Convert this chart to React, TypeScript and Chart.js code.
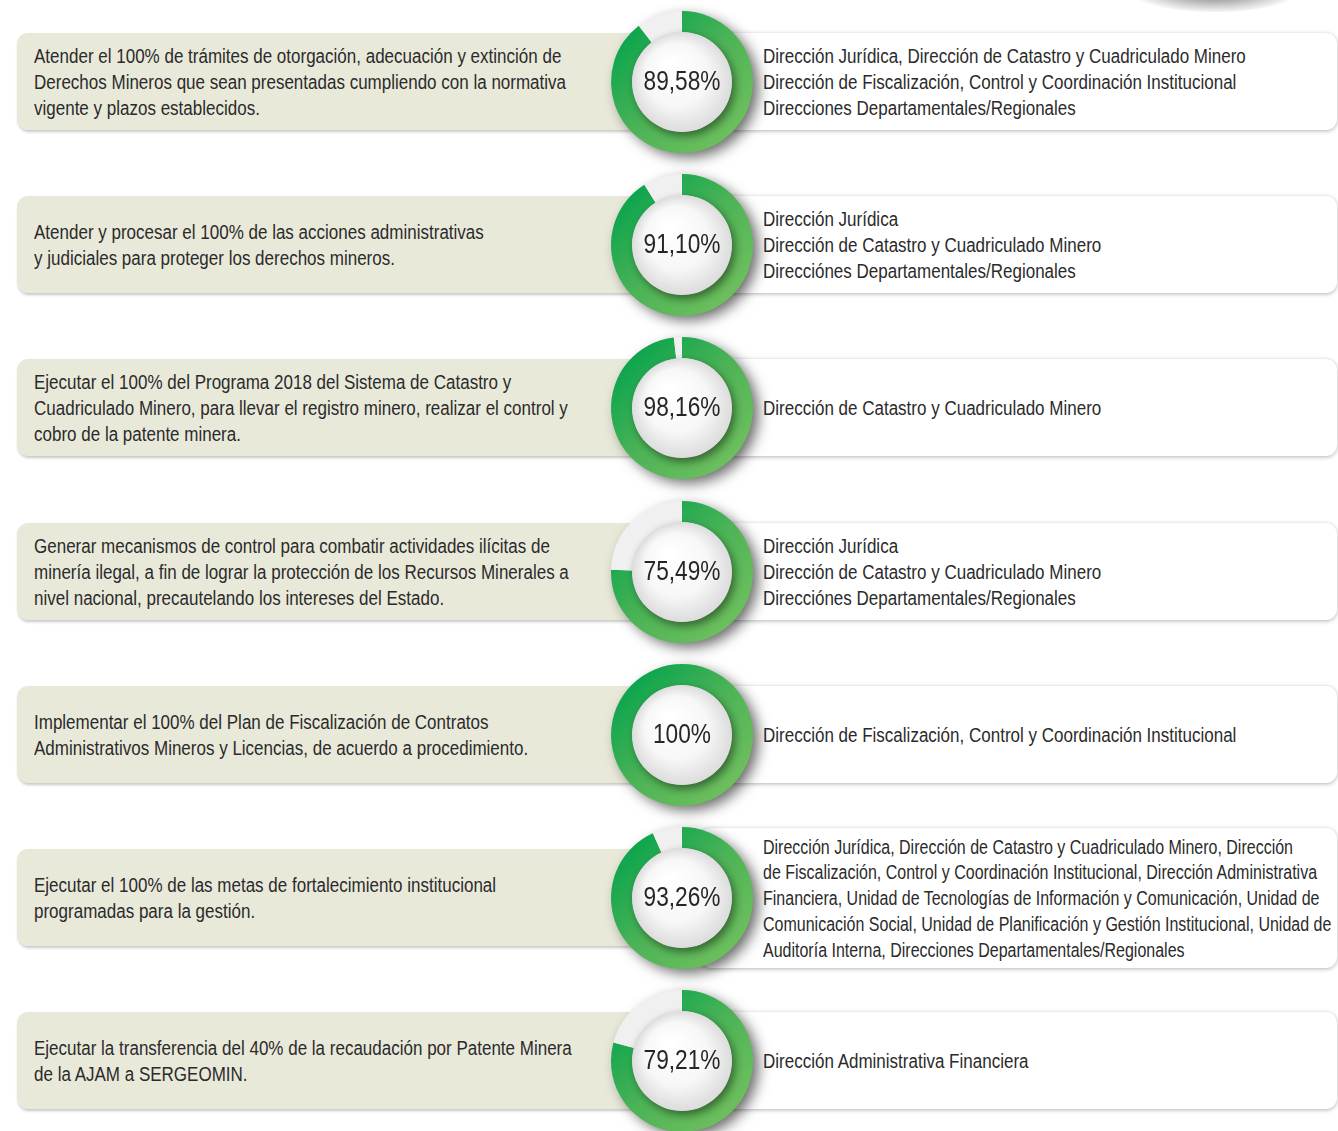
import React, { useEffect, useRef } from "react";
import { Chart, registerables } from "chart.js";

Chart.register(...registerables);

// ---- Data ----
const goals: string[][] = [
  [
    "Atender el 100% de trámites de otorgación, adecuación y extinción de",
    "Derechos Mineros que sean presentadas cumpliendo con la normativa",
    "vigente y plazos establecidos.",
  ],
  [
    "Atender y procesar el 100% de las acciones administrativas",
    "y judiciales para proteger los derechos mineros.",
  ],
  [
    "Ejecutar el 100% del Programa 2018 del Sistema de Catastro y",
    "Cuadriculado Minero, para llevar el registro minero, realizar el control y",
    "cobro de la patente minera.",
  ],
  [
    "Generar mecanismos de control para combatir actividades ilícitas de",
    "minería ilegal, a fin de lograr la protección de los Recursos Minerales a",
    "nivel nacional, precautelando los intereses del Estado.",
  ],
  [
    "Implementar el 100% del Plan de Fiscalización de Contratos",
    "Administrativos Mineros y Licencias, de acuerdo a procedimiento.",
  ],
  [
    "Ejecutar el 100% de las metas de fortalecimiento institucional",
    "programadas para la gestión.",
  ],
  [
    "Ejecutar la transferencia del 40% de la recaudación por Patente Minera",
    "de la AJAM a SERGEOMIN.",
  ],
];

const achieved: number[] = [89.58, 91.1, 98.16, 75.49, 100, 93.26, 79.21];
const percentLabels: string[] = ["89,58%", "91,10%", "98,16%", "75,49%", "100%", "93,26%", "79,21%"];

const responsibles: string[][] = [
  [
    "Dirección Jurídica, Dirección de Catastro y Cuadriculado Minero",
    "Dirección de Fiscalización, Control y Coordinación Institucional",
    "Direcciones Departamentales/Regionales",
  ],
  ["Dirección Jurídica", "Dirección de Catastro y Cuadriculado Minero", "Direcciónes Departamentales/Regionales"],
  ["Dirección de Catastro y Cuadriculado Minero"],
  ["Dirección Jurídica", "Dirección de Catastro y Cuadriculado Minero", "Direcciónes Departamentales/Regionales"],
  ["Dirección de Fiscalización, Control y Coordinación Institucional"],
  [
    "Dirección Jurídica, Dirección de Catastro y Cuadriculado Minero, Dirección",
    "de Fiscalización, Control y Coordinación Institucional, Dirección Administrativa",
    "Financiera, Unidad de Tecnologías de Información y Comunicación, Unidad de",
    "Comunicación Social, Unidad de Planificación y Gestión Institucional, Unidad de",
    "Auditoría Interna, Direcciones Departamentales/Regionales",
  ],
  ["Dirección Administrativa Financiera"],
];

const FONT = '"Liberation Sans", Arial, sans-serif';
const SCALE_X = 0.85;
const SCALE_X_DENSE = 0.8;
const ROW0 = 33;
const ROW_STEP = 163.2;
const BOX_H = 97;
const CX = 682;
const CANVAS = 190;
const OUTER_R = 71;

function Donut({ value, label, cy }: { value: number; label: string; cy: number }) {
  const ref = useRef<HTMLCanvasElement | null>(null);
  useEffect(() => {
    const canvas = ref.current;
    if (!canvas) return;
    const pad = CANVAS / 2 - OUTER_R;
    const decor = {
      id: "decor",
      beforeDatasetsDraw(chart: any) {
        const { ctx, chartArea } = chart;
        const x = (chartArea.left + chartArea.right) / 2;
        const y = (chartArea.top + chartArea.bottom) / 2;
        ctx.save();
        ctx.shadowColor = "rgba(0,0,0,0.6)";
        ctx.shadowBlur = 14;
        ctx.shadowOffsetX = 6;
        ctx.shadowOffsetY = 5;
        ctx.beginPath();
        ctx.arc(x, y, OUTER_R - 1, 0, Math.PI * 2);
        ctx.fillStyle = "#eeeeee";
        ctx.fill();
        ctx.restore();
      },
      afterDatasetsDraw(chart: any) {
        const { ctx, chartArea } = chart;
        const x = (chartArea.left + chartArea.right) / 2;
        const y = (chartArea.top + chartArea.bottom) / 2;
        const r = 50;
        ctx.save();
        ctx.shadowColor = "rgba(0,0,0,0.45)";
        ctx.shadowBlur = 9;
        ctx.shadowOffsetX = 3;
        ctx.shadowOffsetY = 4;
        const g = ctx.createRadialGradient(x - 14, y - 18, 4, x, y, r);
        g.addColorStop(0, "#ffffff");
        g.addColorStop(0.6, "#f7f7f7");
        g.addColorStop(1, "#dcdcdc");
        ctx.beginPath();
        ctx.arc(x, y, r, 0, Math.PI * 2);
        ctx.fillStyle = g;
        ctx.fill();
        ctx.restore();
        ctx.save();
        ctx.fillStyle = "#262626";
        ctx.font = `27px ${FONT}`;
        ctx.textAlign = "center";
        ctx.textBaseline = "middle";
        ctx.translate(x, y + 1);
        ctx.scale(0.84, 1);
        ctx.fillText(label, 0, 0);
        ctx.restore();
      },
    };
    const chart = new Chart(canvas, {
      type: "doughnut",
      data: {
        labels: ["Ejecutado", "Pendiente"],
        datasets: [
          {
            data: [value, 100 - value],
            backgroundColor: (c: any) => {
              if (c.dataIndex === 1) return "#f0f0f0";
              const area = c.chart.chartArea;
              if (!area) return "#3cb054";
              const g = c.chart.ctx.createLinearGradient(area.left + 10, area.top + 10, area.right - 20, area.bottom - 20);
              g.addColorStop(0, "#00a24c");
              g.addColorStop(0.55, "#4cb356");
              g.addColorStop(1, "#6dbf5d");
              return g;
            },
            borderWidth: 0,
          },
        ],
      },
      options: {
        responsive: false,
        animation: false,
        cutout: "70%",
        layout: { padding: pad },
        plugins: { legend: { display: false }, tooltip: { enabled: false } },
        events: [],
      },
      plugins: [decor],
    });
    return () => chart.destroy();
  }, [value, label]);
  return (
    <canvas
      ref={ref}
      width={CANVAS}
      height={CANVAS}
      style={{ position: "absolute", left: CX - CANVAS / 2, top: cy - CANVAS / 2, width: CANVAS, height: CANVAS, zIndex: 3 }}
    />
  );
}

function TextBlock({ lines, left, cy, sx }: { lines: string[]; left: number; cy: number; sx: number }) {
  return (
    <div
      style={{
        position: "absolute",
        left,
        top: cy + 1.5 - (lines.length * 25.7) / 2,
        fontSize: 20,
        lineHeight: "25.7px",
        whiteSpace: "nowrap",
        transform: `scaleX(${sx})`,
        transformOrigin: "0 0",
        zIndex: 2,
      }}
    >
      {lines.map((l, k) => (
        <div key={k}>{l}</div>
      ))}
    </div>
  );
}

export default function App() {
  return (
    <div
      style={{
        position: "absolute",
        left: 0,
        top: 0,
        width: 1338,
        height: 1131,
        overflow: "hidden",
        background: "#ffffff",
        fontFamily: FONT,
        color: "#2b2b2b",
      }}
    >
      <div
        style={{
          position: "absolute",
          left: 1130,
          top: -30,
          width: 170,
          height: 42,
          borderRadius: "50%",
          background: "radial-gradient(ellipse at 50% 40%, rgba(60,60,60,0.9) 0%, rgba(120,120,120,0.5) 45%, rgba(255,255,255,0) 75%)",
        }}
      />
      {goals.map((lines, i) => {
        const top = Math.round(ROW0 + i * ROW_STEP);
        const cy = top + BOX_H / 2;
        const resp = responsibles[i];
        const tall = resp.length > 3;
        const rTop = tall ? cy - 70 : top;
        const rH = tall ? 140 : BOX_H;
        return (
          <React.Fragment key={i}>
            <div
              style={{
                position: "absolute",
                left: 17,
                top,
                width: 640,
                height: BOX_H,
                background: "#e9e9da",
                borderRadius: 11,
                boxShadow: "1px 2px 3px rgba(0,0,0,0.22)",
                zIndex: 1,
              }}
            />
            <TextBlock lines={lines} left={34} cy={cy} sx={SCALE_X} />
            <div
              style={{
                position: "absolute",
                left: 700,
                top: rTop,
                width: 637,
                height: rH,
                background: "#ffffff",
                borderRadius: 11,
                boxShadow: "0px 1px 4px rgba(0,0,0,0.3)",
                zIndex: 1,
              }}
            />
            <TextBlock lines={resp} left={763} cy={cy} sx={tall ? SCALE_X_DENSE : SCALE_X} />
            <Donut value={achieved[i]} label={percentLabels[i]} cy={cy} />
          </React.Fragment>
        );
      })}
    </div>
  );
}
